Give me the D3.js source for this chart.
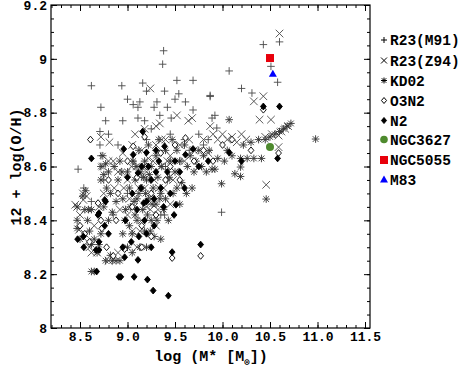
<!DOCTYPE html>
<html><head><meta charset="utf-8">
<script src="https://cdn.jsdelivr.net/npm/d3@7"></script>
<style>body{margin:0;background:#fff}svg{display:block}text{font-family:"Liberation Mono","DejaVu Sans Mono",monospace;font-weight:bold}</style>
</head><body><svg id="c" width="463" height="367"></svg>
<script>
const xMajor=[8.5,9.0,9.5,10.0,10.5,11.0,11.5];
const yMajor=[8,8.2,8.4,8.6,8.8,9,9.2];
const legendLabels=["R23(M91)","R23(Z94)","KD02","O3N2","N2","NGC3627","NGC5055","M83"];
const r23m91=[[8.62,8.90],[8.94,8.90],[9.38,9.03],[9.37,8.98],[9.16,8.91],[9.20,8.88],[9.39,8.88],[9.52,8.92],[9.69,8.92],[9.87,8.86],[9.00,8.85],[9.06,8.83],[9.13,8.84],[9.11,8.82],[9.28,8.82],[9.31,8.84],[9.42,8.82],[9.50,8.85],[9.54,8.87],[9.61,8.84],[9.69,8.81],[8.72,8.82],[8.77,8.77],[8.95,8.77],[9.11,8.78],[9.18,8.77],[9.34,8.79],[9.46,8.78],[9.89,8.78],[8.71,8.73],[8.71,8.68],[8.72,8.64],[10.43,9.053],[10.60,9.063],[10.51,8.972],[10.58,8.913],[10.07,8.955],[10.20,8.89],[10.31,8.873],[9.87,8.864],[9.92,8.79],[9.94,8.743],[9.99,8.43],[8.48,8.59],[8.54,8.52],[8.85,8.42],[9.29,8.42],[9.35,8.42],[9.39,8.42],[9.20,8.70],[9.30,8.66],[9.45,8.72],[9.60,8.70],[9.75,8.72],[9.80,8.68],[9.05,8.62],[8.90,8.68],[8.80,8.72],[9.55,8.62],[9.65,8.66],[9.40,8.60],[9.15,8.56],[9.00,8.50],[8.75,8.55],[8.62,8.47],[9.25,8.74],[9.85,8.70]];
const r23z94=[[9.24,8.89],[9.52,8.79],[9.64,8.77],[9.68,8.78],[9.08,8.72],[9.18,8.74],[9.30,8.75],[9.34,8.76],[8.72,8.71],[8.81,8.69],[10.60,9.094],[10.43,8.861],[10.33,8.842],[10.39,8.774],[10.51,8.774],[9.87,8.75],[10.69,8.75],[10.66,8.74],[10.62,8.73],[10.59,8.715],[10.52,8.72],[10.45,8.71],[10.59,8.672],[10.46,8.532],[8.53,8.50],[8.47,8.45],[8.45,8.458],[8.535,8.476],[8.57,8.49],[8.49,8.365],[8.85,8.62],[8.90,8.58],[8.95,8.65],[9.00,8.55],[9.05,8.68],[9.10,8.60],[9.12,8.52],[9.15,8.66],[9.20,8.58],[9.22,8.63],[9.25,8.48],[9.28,8.55],[9.30,8.68],[9.35,8.60],[9.38,8.52],[9.40,8.70],[9.45,8.64],[9.50,8.58],[9.55,8.68],[9.60,8.62],[9.65,8.70],[9.70,8.66],[9.75,8.60],[9.80,8.70],[9.85,8.65],[9.90,8.72],[9.95,8.70],[10.00,8.72],[10.05,8.70],[10.10,8.71],[10.15,8.69],[10.20,8.72],[10.25,8.70],[9.00,8.42],[9.05,8.36],[9.10,8.30],[8.75,8.50],[8.70,8.45],[8.65,8.38],[8.60,8.30],[8.55,8.35],[8.50,8.42],[8.58,8.32],[8.62,8.28],[8.68,8.28],[8.80,8.25],[8.90,8.28],[9.15,8.40],[9.30,8.38],[9.45,8.46],[9.20,8.45],[8.74,8.60],[8.80,8.62],[9.02,8.48],[9.33,8.52],[9.48,8.55],[9.07,8.45],[9.13,8.36],[9.18,8.52],[9.24,8.44],[9.27,8.62],[9.32,8.44],[8.96,8.52],[8.92,8.44],[9.04,8.60],[9.36,8.70],[9.42,8.62],[8.86,8.52]];
const kd02=[[8.47,8.40],[8.47,8.37],[8.47,8.45],[8.55,8.44],[8.59,8.44],[8.53,8.49],[8.56,8.51],[8.62,8.44],[8.65,8.33],[8.62,8.31],[8.68,8.28],[8.70,8.31],[8.72,8.35],[8.72,8.55],[8.75,8.57],[8.72,8.60],[8.77,8.61],[8.74,8.64],[8.80,8.58],[8.82,8.50],[8.78,8.52],[8.75,8.45],[8.80,8.40],[8.77,8.25],[8.82,8.27],[8.62,8.21],[8.65,8.21],[8.84,8.25],[8.88,8.25],[8.92,8.25],[8.90,8.55],[8.92,8.62],[8.95,8.48],[8.97,8.40],[9.00,8.58],[9.02,8.52],[9.03,8.45],[9.05,8.35],[9.06,8.62],[9.08,8.55],[9.10,8.48],[9.10,8.40],[9.12,8.66],[9.14,8.58],[9.15,8.52],[9.16,8.44],[9.18,8.36],[9.18,8.62],[9.20,8.55],[9.22,8.48],[9.22,8.68],[9.25,8.60],[9.25,8.40],[9.27,8.52],[9.28,8.34],[9.30,8.64],[9.30,8.46],[9.32,8.56],[9.33,8.70],[9.35,8.50],[9.36,8.60],[9.38,8.44],[9.40,8.66],[9.42,8.55],[9.43,8.40],[9.45,8.62],[9.47,8.70],[9.48,8.50],[9.50,8.58],[9.52,8.66],[9.55,8.62],[9.57,8.54],[9.60,8.68],[9.62,8.50],[9.63,8.60],[9.66,8.64],[9.70,8.58],[9.72,8.62],[9.75,8.66],[9.78,8.60],[9.80,8.64],[9.83,8.58],[9.86,8.66],[9.89,8.59],[9.92,8.59],[9.95,8.63],[9.99,8.536],[10.02,8.62],[10.05,8.66],[10.07,8.774],[10.10,8.64],[10.13,8.573],[10.19,8.563],[10.19,8.598],[10.19,8.63],[10.26,8.63],[10.33,8.63],[10.41,8.63],[10.46,8.479],[10.22,8.68],[10.30,8.69],[10.38,8.70],[10.45,8.70],[10.50,8.71],[10.55,8.72],[10.60,8.73],[10.64,8.74],[10.68,8.75],[10.72,8.76],[10.98,8.702],[9.05,8.28],[9.20,8.30],[9.35,8.33],[9.00,8.30],[8.95,8.35],[9.55,8.46],[9.68,8.52],[9.02,8.38],[9.08,8.42],[9.12,8.50],[9.17,8.56],[9.21,8.42],[9.24,8.36],[9.26,8.46],[9.31,8.40],[9.34,8.48],[9.13,8.30],[9.07,8.47],[9.19,8.50],[8.98,8.44],[9.09,8.60],[9.23,8.57],[8.94,8.58],[8.86,8.60],[8.88,8.47],[8.84,8.43],[9.40,8.48],[9.44,8.56],[9.52,8.52],[8.58,8.40],[8.50,8.33],[8.60,8.36]];
const o3n2=[[8.61,8.70],[8.69,8.464],[8.72,8.40],[8.73,8.37],[8.55,8.35],[8.50,8.38],[8.60,8.32],[8.85,8.268],[8.97,8.293],[9.06,8.675],[9.18,8.71],[9.61,8.706],[9.47,8.26],[9.77,8.268],[10.43,8.811],[10.59,8.65],[8.80,8.55],[8.90,8.50],[9.00,8.62],[9.05,8.45],[9.10,8.56],[9.15,8.38],[9.20,8.60],[9.25,8.50],[9.30,8.42],[9.35,8.65],[9.40,8.55],[9.45,8.60],[9.50,8.68],[9.55,8.55],[9.70,8.62],[9.80,8.66],[9.15,8.30],[9.25,8.34],[8.78,8.30],[8.88,8.40],[10.00,8.68],[10.10,8.70],[10.30,8.66],[9.90,8.62]];
const n2=[[9.16,8.73],[8.62,8.63],[8.69,8.42],[8.77,8.47],[8.76,8.38],[8.70,8.32],[8.70,8.29],[8.67,8.29],[8.675,8.21],[8.91,8.19],[8.475,8.33],[8.535,8.34],[8.54,8.30],[8.76,8.476],[8.70,8.427],[9.49,8.42],[9.51,8.458],[9.47,8.282],[9.11,8.253],[8.93,8.19],[9.07,8.19],[9.21,8.18],[9.27,8.139],[9.43,8.12],[8.97,8.263],[9.25,8.30],[9.04,8.32],[9.77,8.31],[10.43,8.823],[10.60,8.823],[10.07,8.652],[10.20,8.62],[10.58,8.63],[9.06,8.644],[8.96,8.665],[9.20,8.652],[9.39,8.675],[9.61,8.644],[9.69,8.665],[9.11,8.576],[9.14,8.52],[9.17,8.464],[9.22,8.60],[9.18,8.40],[9.25,8.55],[9.28,8.48],[9.20,8.35],[9.10,8.44],[9.05,8.50],[9.00,8.56],[9.30,8.58],[9.33,8.62],[9.35,8.52],[9.12,8.34],[9.28,8.38],[9.38,8.45],[9.42,8.58],[9.45,8.50],[9.50,8.62],[9.55,8.58],[9.60,8.52],[8.98,8.40],[8.95,8.30],[9.30,8.66],[8.80,8.35],[9.15,8.60],[9.20,8.47],[9.75,8.60],[9.85,8.62]];
const ngc3627=[[10.50,8.672]];
const ngc5055=[[10.50,9.003]];
const m83=[[10.53,8.945]];

const svg=d3.select("#c");
const L=51,R=370,T=5,B=328;
const x=d3.scaleLinear().domain([8.5,11.5]).range([80,365]);
const y=d3.scaleLinear().domain([8,9.2]).range([B,T]);
const gray="#4a4a4a";

const sym={
 plus:(s)=>`M${-s},0H${s}M0,${-s}V${s}`,
 cross:(s)=>`M${-s},${-s}L${s},${s}M${-s},${s}L${s},${-s}`,
 star:(s)=>`M${-s},0H${s}M0,${-s}V${s}M${-s*0.75},${-s*0.75}L${s*0.75},${s*0.75}M${-s*0.75},${s*0.75}L${s*0.75},${-s*0.75}`,
 diamond:(s)=>`M0,${-s}L${s*0.85},0L0,${s}L${-s*0.85},0Z`
};
const plot=svg.append("g");
function draw(data,path,stroke,fill,sw){
 plot.append("g").selectAll("path").data(data).join("path")
  .attr("transform",d=>`translate(${x(d[0])},${y(d[1])})`)
  .attr("d",path).attr("stroke",stroke).attr("fill",fill).attr("stroke-width",sw);
}
draw(r23m91,sym.plus(3.8),gray,"none",0.9);
draw(r23z94,sym.cross(3.8),gray,"none",0.9);
draw(kd02,sym.star(3.8),"#333","none",0.9);
draw(o3n2,sym.diamond(3.4),"#000","#fff",0.9);
draw(n2,sym.diamond(3.4),"#000","#000",0.9);
plot.selectAll(".g1").data(ngc3627).join("circle").attr("cx",d=>x(d[0])).attr("cy",d=>y(d[1])).attr("r",4).attr("fill","#4e8a2e");
plot.selectAll(".g2").data(ngc5055).join("rect").attr("x",d=>x(d[0])-4).attr("y",d=>y(d[1])-4).attr("width",8).attr("height",8).attr("fill","#e8000b");
plot.selectAll(".g3").data(m83).join("path").attr("transform",d=>`translate(${x(d[0])},${y(d[1])})`).attr("d","M0,-4L4,3L-4,3Z").attr("fill","#0000ff");

const xMinor=d3.range(82,116).map(v=>v/10);
const yMinor=d3.range(160,185).map(v=>v/20);
const fx=d=>d.toFixed(1), fy=d=>(d===8||d===9)?String(d):d.toFixed(1);
function ax(gen,scale,minor,major,pad,fmt,trans){
 const g1=svg.append("g").attr("transform",trans).call(gen(scale).tickValues(minor).tickSize(-3).tickFormat(""));
 const g2=svg.append("g").attr("transform",trans).call(gen(scale).tickValues(major).tickSize(-6).tickPadding(pad).tickFormat(fmt));
 [g1,g2].forEach(g=>{g.select(".domain").remove();g.selectAll("line").attr("stroke","#000").attr("stroke-width",1);});
 g2.selectAll("text").attr("fill","#000").style("font-size","13px");
 return g2;
}
ax(d3.axisBottom,x,xMinor,xMajor,4,fx,`translate(0,${B})`);
ax(d3.axisTop,x,xMinor,xMajor,4,()=>"",`translate(0,${T})`);
ax(d3.axisLeft,y,yMinor,yMajor,4,fy,`translate(${L},0)`);
ax(d3.axisRight,y,yMinor,yMajor,4,()=>"",`translate(${R},0)`);
svg.append("rect").attr("x",L).attr("y",T).attr("width",R-L).attr("height",B-T).attr("fill","none").attr("stroke","#000").attr("stroke-width",1.2);

const xt=svg.append("text").attr("x",211).attr("y",361).attr("text-anchor","middle").style("font-size","15px").attr("fill","#000");
xt.append("tspan").text("log (M* [M");
xt.append("tspan").attr("dy",4).style("font-size","9px").text("\u2299");
xt.append("tspan").attr("dy",-4).text("])");
svg.append("text").attr("transform","translate(21,167) rotate(-90)").attr("text-anchor","middle").style("font-size","15px").attr("fill","#000").text("12 + log(O/H)");

const ly=[40,60.5,80.5,100.5,120.5,139.5,160,179.5];
const lg=svg.append("g");
const lsym=[
 g=>g.append("path").attr("d",sym.plus(3)).attr("stroke","#000").attr("stroke-width",1),
 g=>g.append("path").attr("d",sym.cross(3)).attr("stroke","#000").attr("stroke-width",1),
 g=>g.append("path").attr("d",sym.star(3)).attr("stroke","#000").attr("stroke-width",1),
 g=>g.append("path").attr("d",sym.diamond(3)).attr("stroke","#000").attr("fill","#fff").attr("stroke-width",1),
 g=>g.append("path").attr("d",sym.diamond(3)).attr("stroke","#000").attr("fill","#000").attr("stroke-width",1),
 g=>g.append("circle").attr("r",3.8).attr("fill","#4e8a2e"),
 g=>g.append("rect").attr("x",-4).attr("y",-4).attr("width",8).attr("height",8).attr("fill","#e8000b"),
 g=>g.append("path").attr("d","M0,-4L4,3L-4,3Z").attr("fill","#0000ff")
];
legendLabels.forEach((t,i)=>{
 const g=lg.append("g").attr("transform",`translate(384,${ly[i]})`);
 lsym[i](g);
 g.append("text").attr("x",6).attr("y",5).style("font-size","14.5px").attr("fill","#000").text(t);
});
</script></body></html>
